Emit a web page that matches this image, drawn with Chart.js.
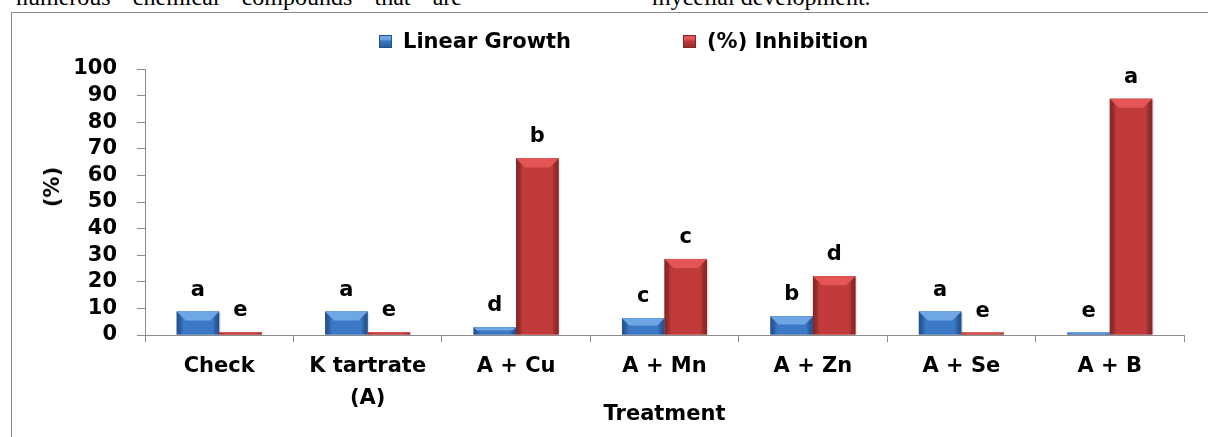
<!DOCTYPE html>
<html>
<head>
<meta charset="utf-8">
<title>Linear growth and inhibition by treatment</title>
<script src="https://cdn.jsdelivr.net/npm/chart.js@4.4.1/dist/chart.umd.min.js"></script>
<style>
  html, body { margin: 0; padding: 0; background: #fff; }
  body { position: relative; width: 1208px; height: 437px; overflow: hidden; }
  .doc {
    position: absolute; top: -15px; height: 26px;
    font-family: "Liberation Serif", "DejaVu Serif", serif; font-size: 24px; line-height: 24px;
    color: #000; text-align: justify; text-align-last: justify;
  }
  .doc.single { white-space: nowrap; text-align: left; text-align-last: left; }
  .frame {
    position: absolute; left: 11px; top: 12px; right: -2px; bottom: -2px;
    border-left: 1px solid #8a8a8a; border-top: 1px solid #8a8a8a;
  }
  canvas { position: absolute; left: 0; top: 0; }
  #legend {
    position: absolute; left: 379px; top: 29px; display: flex; align-items: center;
    font-family: "DejaVu Sans", sans-serif; font-weight: bold; font-size: 21px; line-height: 24px; color: #000;
  }
  #legend .item { display: flex; align-items: center; width: 304px; white-space: nowrap; }
  #legend .box { width: 13px; height: 13px; margin-right: 11px; box-sizing: border-box; }
  .ytitle {
    position: absolute; left: 52px; top: 187px; transform: translate(-50%, -50%) rotate(-90deg);
    font-family: "DejaVu Sans", sans-serif; font-weight: bold; font-size: 21px; line-height: 24px;
    white-space: nowrap; color: #000;
  }
</style>
</head>
<body>
<div class="doc" style="left:16px; width:446px;">numerous chemical compounds that are</div>
<div class="doc single" style="left:652px;">mycelial development.</div>
<div class="frame"></div>
<canvas id="chart" width="1208" height="437"></canvas>
<div id="legend"></div>
<div class="ytitle">(%)</div>
<script>
// Treatments on the x axis (multi-line labels as arrays)
const categories = ['Check', ['K tartrate', '(A)'], 'A + Cu', 'A + Mn', 'A + Zn', 'A + Se', 'A + B'];

// Series values (%)
const linearGrowth = [8.8, 8.8, 2.9, 6.3, 7.0, 8.8, 0.9];
const inhibition   = [1.0, 1.0, 66.4, 28.6, 22.1, 0.9, 88.8];

// Significance letters shown above each bar
const growthLetters     = ['a', 'a', 'd', 'c', 'b', 'a', 'e'];
const inhibitionLetters = ['e', 'e', 'b', 'c', 'd', 'e', 'a'];

// Series names
const seriesNames = ['Linear Growth', '(%) Inhibition'];

// Y axis range
const yMin = 0, yMax = 100, yStep = 10;

const FONT = '"DejaVu Sans", sans-serif';
const AXIS_GREY = '#8c8c8c';

// Colour sets for the bevelled bars
const palettes = [
  { main: '#3b78c6', light: '#6ea6e6', dark: '#2a5c9e', edge: '#24508c' },
  { main: '#c13b3b', light: '#e35655', dark: '#972c2c', edge: '#842626' }
];

// Soft drop shadow under every bar
const barShadow = {
  id: 'barShadow',
  beforeDatasetsDraw(chart) {
    const ctx = chart.ctx;
    ctx.save();
    chart.data.datasets.forEach((ds, i) => {
      const meta = chart.getDatasetMeta(i);
      meta.data.forEach(el => {
        const { x, y, base, width } = el.getProps(['x', 'y', 'base', 'width'], true);
        ctx.fillStyle = 'rgba(0,0,0,0.10)';
        ctx.fillRect(x - width / 2 + 1.5, y + 1.5, width, base - y - 1.5);
      });
    });
    ctx.restore();
  }
};

// Bevel facets drawn over each bar
const barBevel = {
  id: 'barBevel',
  afterDatasetsDraw(chart) {
    const ctx = chart.ctx;
    ctx.save();
    chart.data.datasets.forEach((ds, i) => {
      const pal = palettes[i];
      const meta = chart.getDatasetMeta(i);
      meta.data.forEach(el => {
        const { x, y, base, width } = el.getProps(['x', 'y', 'base', 'width'], true);
        const l = x - width / 2, r = x + width / 2, t = y, b = base;
        const h = b - t;
        if (h <= 0) return;
        // body: darker edges, brighter middle
        const g = ctx.createLinearGradient(l, 0, r, 0);
        g.addColorStop(0, pal.edge);
        g.addColorStop(0.08, pal.dark);
        g.addColorStop(0.16, pal.main);
        g.addColorStop(0.5, pal.main);
        g.addColorStop(0.84, pal.main);
        g.addColorStop(0.92, pal.dark);
        g.addColorStop(1, pal.edge);
        ctx.fillStyle = g;
        ctx.fillRect(l, t, width, h);
        // top facet
        const bv = Math.min(9, h * 0.45, width / 4);
        if (bv >= 1) {
          ctx.beginPath();
          ctx.moveTo(l, t);
          ctx.lineTo(r, t);
          ctx.lineTo(r - bv, t + bv);
          ctx.lineTo(l + bv, t + bv);
          ctx.closePath();
          ctx.fillStyle = pal.light;
          ctx.fill();
        } else {
          ctx.fillStyle = pal.light;
          ctx.fillRect(l, t, width, Math.min(1, h));
        }
      });
    });
    ctx.restore();
  }
};

// Letters above the bars
const barLetters = {
  id: 'barLetters',
  afterDatasetsDraw(chart) {
    const ctx = chart.ctx;
    const sets = [growthLetters, inhibitionLetters];
    ctx.save();
    ctx.font = 'bold 21px ' + FONT;
    ctx.fillStyle = '#000';
    ctx.textAlign = 'center';
    ctx.textBaseline = 'alphabetic';
    chart.data.datasets.forEach((ds, i) => {
      const meta = chart.getDatasetMeta(i);
      meta.data.forEach((el, j) => {
        const { x, y } = el.getProps(['x', 'y'], true);
        ctx.fillText(sets[i][j], x, y - 16);
      });
    });
    ctx.restore();
  }
};

const chart = new Chart(document.getElementById('chart'), {
  type: 'bar',
  data: {
    labels: categories,
    datasets: [
      { label: seriesNames[0], data: linearGrowth, backgroundColor: palettes[0].main, borderWidth: 0,
        categoryPercentage: 0.573, barPercentage: 1.0 },
      { label: seriesNames[1], data: inhibition, backgroundColor: palettes[1].main, borderWidth: 0,
        categoryPercentage: 0.573, barPercentage: 1.0 }
    ]
  },
  options: {
    responsive: false,
    animation: false,
    devicePixelRatio: 1,
    layout: { padding: { top: 69, right: 24, left: 0, bottom: 0 } },
    plugins: {
      legend: { display: false },
      tooltip: { enabled: false }
    },
    scales: {
      x: {
        grid: { display: true, drawOnChartArea: false, drawTicks: true, tickLength: 7, color: AXIS_GREY, offset: true },
        border: { color: AXIS_GREY, width: 1 },
        ticks: {
          color: '#000', padding: 9, maxRotation: 0, autoSkip: false,
          font: { family: FONT, size: 21, weight: 'bold', lineHeight: 1.52 }
        },
        title: {
          display: true, text: 'Treatment', color: '#000',
          font: { family: FONT, size: 21, weight: 'bold', lineHeight: 1.2 },
          padding: { top: 0, bottom: 10 }
        },
        afterFit(scale) { scale.height = 102; }
      },
      y: {
        min: yMin, max: yMax,
        grid: { display: true, drawOnChartArea: false, drawTicks: true, tickLength: 8, color: AXIS_GREY },
        border: { color: AXIS_GREY, width: 1 },
        ticks: {
          stepSize: yStep, color: '#000', padding: 20, autoSkip: false,
          font: { family: FONT, size: 21, weight: 'bold' }
        },
        afterFit(scale) { scale.width = 145; }
      }
    }
  },
  plugins: [barShadow, barBevel, barLetters]
});

// HTML legend built from the chart's datasets
const legendEl = document.getElementById('legend');
chart.data.datasets.forEach((ds, i) => {
  const pal = palettes[i];
  const item = document.createElement('div');
  item.className = 'item';
  const box = document.createElement('span');
  box.className = 'box';
  box.style.background = `linear-gradient(180deg, ${pal.light} 0%, ${pal.light} 30%, ${pal.main} 45%, ${pal.dark} 100%)`;
  box.style.border = `1px solid ${pal.edge}`;
  const txt = document.createElement('span');
  txt.textContent = ds.label;
  item.appendChild(box);
  item.appendChild(txt);
  legendEl.appendChild(item);
});
</script>
</body>
</html>
